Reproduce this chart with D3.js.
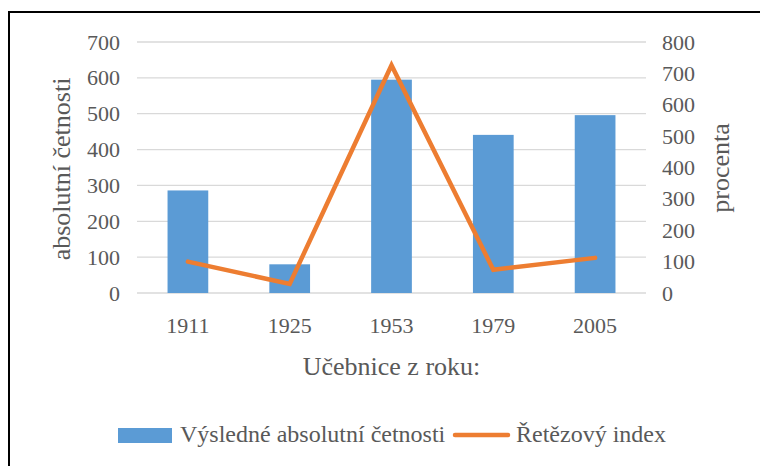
<!DOCTYPE html>
<html><head><meta charset="utf-8">
<script src="https://cdn.jsdelivr.net/npm/d3@7"></script>
<style>body{margin:0;background:#fff;} text{font-family:"Liberation Serif","Times New Roman",serif;fill:#595959;}</style>
</head><body>
<svg id="c" width="760" height="466"></svg>
<script>
const categories = ["1911","1925","1953","1979","2005"];
const absValues = [286, 80, 595, 441, 496];
const indexValues = [100, 29, 726, 74, 112];
const leftTicks = [0,100,200,300,400,500,600,700];
const rightTicks = [0,100,200,300,400,500,600,700,800];
const seriesNames = ["Výsledné absolutní četnosti", "Řetězový index"];
const xTitle = "Učebnice z roku:";
const yLeftTitle = "absolutní četnosti";
const yRightTitle = "procenta";

const FONT = '"Liberation Serif","Times New Roman",serif';
const svg = d3.select("#c");
const L = 137, R = 646, T = 42, B = 293;
const x = d3.scaleBand().domain(categories).range([L, R]).paddingInner(0.6).paddingOuter(0.3);
const yL = d3.scaleLinear().domain([0,700]).range([B,T]);
const yR = d3.scaleLinear().domain([0,800]).range([B,T]);

// outer border
svg.append("path").attr("d","M9,470 L9,12 L765,12").attr("fill","none").attr("stroke","#000").attr("stroke-width",2);

// gridlines
svg.append("g").selectAll("line").data(leftTicks).join("line")
  .attr("x1",L).attr("x2",R).attr("y1",d=>yL(d)).attr("y2",d=>yL(d))
  .attr("stroke","#d9d9d9").attr("stroke-width",1.3);

function styleAxis(g){
  g.attr("font-family", FONT);
  g.select(".domain").remove();
  g.selectAll("text").style("font-size","22px").style("font-family",FONT).attr("fill","#595959");
}

// left axis
svg.append("g").attr("transform",`translate(${L},0)`)
  .call(d3.axisLeft(yL).tickValues(leftTicks).tickSize(0).tickPadding(17)).call(styleAxis);

// right axis
svg.append("g").attr("transform",`translate(${R},0)`)
  .call(d3.axisRight(yR).tickValues(rightTicks).tickSize(0).tickPadding(16)).call(styleAxis);

// bottom axis
svg.append("g").attr("transform",`translate(0,${B})`)
  .call(d3.axisBottom(x).tickSize(0).tickPadding(24)).call(styleAxis);

// bars
svg.append("g").selectAll("rect").data(categories).join("rect")
  .attr("x",d=>x(d)).attr("width",x.bandwidth())
  .attr("y",(d,i)=>yL(absValues[i])).attr("height",(d,i)=>B-yL(absValues[i]))
  .attr("fill","#5B9BD5");

// line
const line = d3.line().x((d,i)=>x(categories[i])+x.bandwidth()/2).y(d=>yR(d));
svg.append("path").datum(indexValues).attr("d",line)
  .attr("fill","none").attr("stroke","#ED7D31").attr("stroke-width",4.5)
  .attr("stroke-linejoin","miter").attr("stroke-linecap","round");

// titles
svg.append("text").attr("x",(L+R)/2).attr("y",375).attr("text-anchor","middle")
  .style("font-size","26px").text(xTitle);
svg.append("text").attr("transform","translate(70,169) rotate(-90)").attr("text-anchor","middle")
  .style("font-size","26px").text(yLeftTitle);
svg.append("text").attr("transform","translate(729,168) rotate(-90)").attr("text-anchor","middle")
  .style("font-size","26px").text(yRightTitle);

// legend
const lg = svg.append("g");
lg.append("rect").attr("x",118).attr("y",428).attr("width",54).attr("height",15).attr("fill","#5B9BD5");
lg.append("text").attr("x",180).attr("y",442).style("font-size","24px").text(seriesNames[0]);
lg.append("line").attr("x1",455).attr("x2",508).attr("y1",435).attr("y2",435)
  .attr("stroke","#ED7D31").attr("stroke-width",4.5).attr("stroke-linecap","round");
lg.append("text").attr("x",516).attr("y",442).style("font-size","24px").text(seriesNames[1]);
</script>
</body></html>
